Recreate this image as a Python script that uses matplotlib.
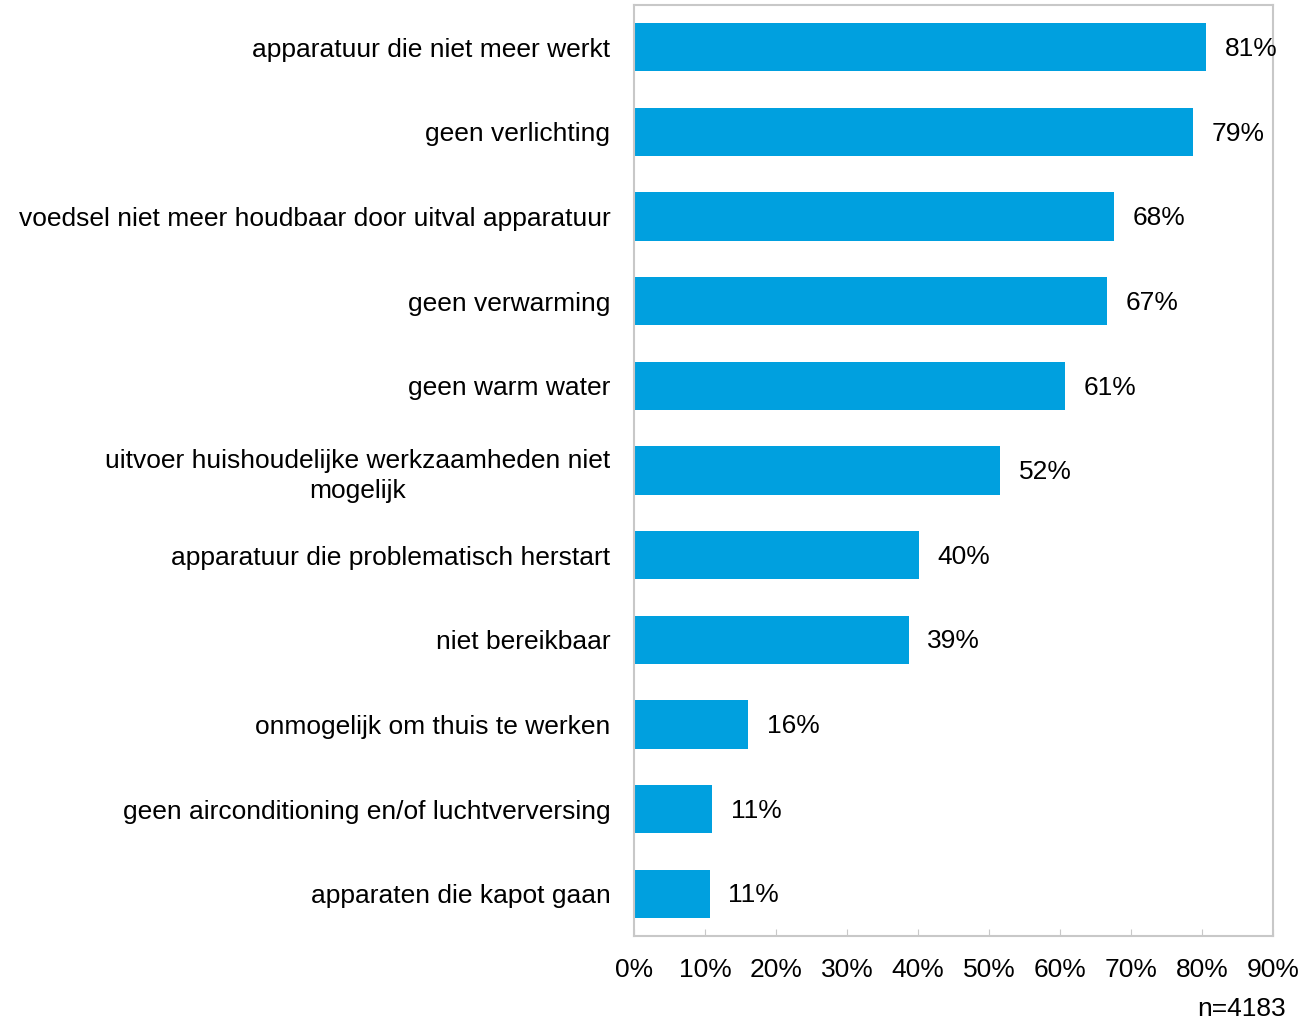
import matplotlib.pyplot as plt
from matplotlib.ticker import FuncFormatter

plt.rcParams['font.family'] = ['Liberation Sans', 'DejaVu Sans']

categories = [
    "apparatuur die niet meer werkt",
    "geen verlichting",
    "voedsel niet meer houdbaar door uitval apparatuur",
    "geen verwarming",
    "geen warm water",
    "uitvoer huishoudelijke werkzaamheden niet\nmogelijk",
    "apparatuur die problematisch herstart",
    "niet bereikbaar",
    "onmogelijk om thuis te werken",
    "geen airconditioning en/of luchtverversing",
    "apparaten die kapot gaan",
]
values = [80.6, 78.7, 67.6, 66.6, 60.7, 51.6, 40.1, 38.7, 16.1, 11.0, 10.7]
n_respondents = 4183

bar_color = "#00A0DF"
edge_gray = "#C8C8C8"
fs = 19

fig = plt.figure(figsize=(13.01, 10.21), dpi=100)
ax = fig.add_axes([634 / 1301, 1 - 936 / 1021, 639 / 1301, 931 / 1021])

pos = list(range(len(categories)))
ax.barh(pos, values, height=0.57, color=bar_color)
ax.set_ylim(len(categories) - 0.5, -0.5)
ax.set_xlim(0, 90)

for y, v in zip(pos, values):
    ax.text(v + 2.6, y + 0.02, f"{v:.0f}%", va='center', ha='left', fontsize=fs)

ax.set_yticks(pos)
ax.set_yticklabels(categories, fontsize=fs, multialignment='center',
                   linespacing=1.3)
ax.tick_params(axis='y', length=0, pad=17)

ax.set_xticks(range(0, 91, 10))
ax.xaxis.set_major_formatter(FuncFormatter(lambda x, _: f"{x:.0f}%"))
ax.tick_params(axis='x', direction='in', length=5, color=edge_gray,
               labelsize=fs, pad=16)

for side in ax.spines.values():
    side.set_color(edge_gray)
    side.set_linewidth(1.5)

fig.text(1286 / 1301, 1 - 1009 / 1021, f"n={n_respondents}", ha='right',
         va='center', fontsize=fs)

fig.savefig("out.png", dpi=100)
